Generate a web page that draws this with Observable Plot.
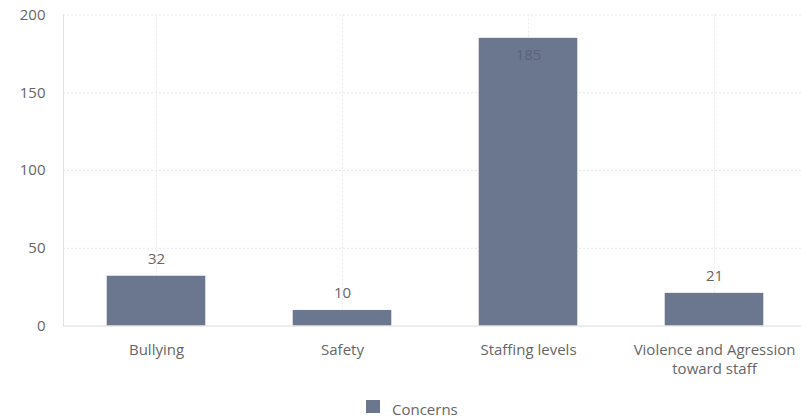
<!DOCTYPE html>
<html>
<head>
<meta charset="utf-8">
<script src="https://cdn.jsdelivr.net/npm/d3@7"></script>
<script src="https://cdn.jsdelivr.net/npm/@observablehq/plot@0.6"></script>
<style>
  html, body { margin: 0; padding: 0; background: #fff; overflow: hidden; width: 801px; height: 419px; }
  #chart { width: 808px; }
  #chart svg { display: block; max-width: none !important; }
  .legend { position: relative; height: 29px; font: 15px "Open Sans", sans-serif; color: #666; }
  .legend .sw { position: absolute; left: 366px; top: 10px; width: 14px; height: 13px; }
  .legend .lb { position: absolute; left: 392px; top: 8px; line-height: 22px; }
</style>
</head>
<body>
<div id="chart"></div>
<div class="legend"><span class="sw"></span><span class="lb"></span></div>
<script>
const categories = ["Bullying", "Safety", "Staffing levels", "Violence and Agression\ntoward staff"];
const values = [32, 10, 185, 21];
const seriesName = "Concerns";
const yTicks = [0, 50, 100, 150, 200];

const barColor = "#6b778f";
const data = categories.map((c, i) => ({category: c, value: values[i]}));

const chart = Plot.plot({
  width: 808,
  height: 390,
  marginTop: 14.5,
  marginBottom: 64.5,
  marginLeft: 63,
  marginRight: 1,
  style: {fontFamily: "'Open Sans', sans-serif", fontSize: "15px", color: "#666", background: "#fff", maxWidth: "none"},
  x: {domain: categories, paddingInner: 0.47, paddingOuter: 0.235, round: false, label: null},
  y: {domain: [0, 200], ticks: yTicks, label: null},
  marks: [
    Plot.ruleY(yTicks.filter(d => d > 0), {stroke: "#e6e6e6", strokeDasharray: "2,2", strokeWidth: 1}),
    Plot.ruleX(categories, {x: d => d, stroke: "#ececec", strokeDasharray: "2,2", strokeWidth: 1}),
    Plot.frame({anchor: "left", stroke: "#e3e3e3"}),
    Plot.barY(data, {x: "category", y: "value", fill: barColor}),
    Plot.ruleY([0], {stroke: "#dcdcdc"}),
    Plot.axisY({ticks: yTicks, tickSize: 0, tickPadding: 18, fill: "#666", fontSize: 15}),
    Plot.axisX({tickSize: 0, tickPadding: 15, fill: "#666", fontSize: 15, lineHeight: 1.27}),
    Plot.text(data.filter(d => d.value < 170), {x: "category", y: "value", text: d => String(d.value), dy: -17, fill: "#666", fontSize: 15}),
    Plot.text(data.filter(d => d.value >= 170), {x: "category", y: "value", text: d => String(d.value), dy: 17, fill: "#5a6478", fontSize: 15})
  ]
});
document.getElementById("chart").appendChild(chart);
document.querySelector(".legend .sw").style.background = barColor;
document.querySelector(".legend .lb").textContent = seriesName;
</script>
</body>
</html>
